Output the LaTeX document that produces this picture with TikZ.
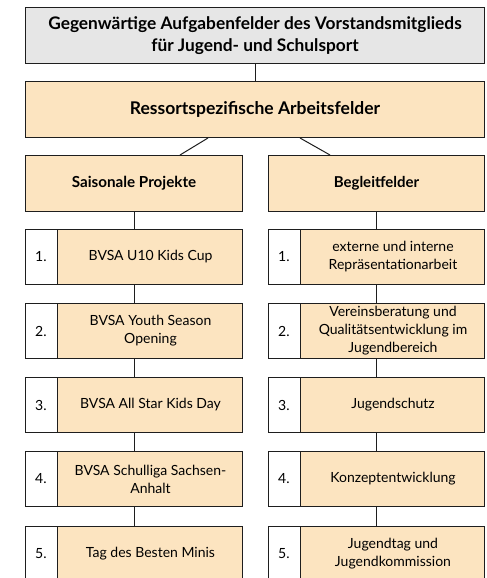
\documentclass[tikz,border=0pt]{standalone}
\usepackage{fontspec}
\setmainfont{Lato}
\usetikzlibrary{calc}
\definecolor{peach}{RGB}{252,228,192}
\definecolor{greybox}{RGB}{230,230,230}
\definecolor{edge}{RGB}{30,30,30}
\tikzset{
  box/.style={draw=edge, line width=1pt, fill=peach, anchor=north west, inner sep=0pt, align=center},
  numcell/.style={draw=edge, line width=1pt, fill=white, anchor=north west, inner sep=0pt, minimum width=32pt, minimum height=55pt},
  txt/.style={align=center, font=\fontsize{14}{18}\selectfont, inner sep=0pt},
  link/.style={draw=edge, line width=1pt}
}
\begin{document}
\begin{tikzpicture}[x=1pt,y=-1pt]
\useasboundingbox (0,0) rectangle (487,578);
% top
\node[box, fill=greybox, minimum width=459pt, minimum height=56pt] (top) at (25,7) {};
\node[txt, font=\bfseries\fontsize{17.3}{22}\selectfont] at (top.center) {Gegenwärtige Aufgabenfelder des Vorstandsmitglieds\\für Jugend- und Schulsport};
\node[box, minimum width=459pt, minimum height=56pt] (res) at (25,81) {};
\node[txt, font=\bfseries\fontsize{17.5}{21}\selectfont] at (res.center) {Ressortspezifische Arbeitsfelder};
\node[box, minimum width=217pt, minimum height=56pt] (sp) at (25,155) {};
\node[txt, font=\bfseries\fontsize{15.2}{18}\selectfont] at (sp.center) {Saisonale Projekte};
\node[box, minimum width=216pt, minimum height=56pt] (bf) at (268,155) {};
\node[txt, font=\bfseries\fontsize{15}{18}\selectfont] at (bf.center) {Begleitfelder};
\draw[link] (top.south) -- (res.north);
\coordinate (rl) at ($(res.south west)+(183,0)$);
\coordinate (rr) at ($(res.south west)+(275,0)$);
\coordinate (spt) at ($(sp.north west)+(155,0)$);
\coordinate (bft) at ($(bf.north west)+(62,0)$);
\draw[link] (rl) -- (spt);
\draw[link] (rr) -- (bft);
% left items
\foreach \i/\y/\t in {1/229/{BVSA U10 Kids Cup},2/303/{BVSA Youth Season\\Opening},3/377/{BVSA All Star Kids Day},4/451/{BVSA Schulliga Sachsen-\\Anhalt},5/526/{Tag des Besten Minis}}{
  \node[box, minimum width=217pt, minimum height=55pt] (l\i) at (25,\y) {};
  \node[numcell] (ln\i) at (25,\y) {};
  \node[txt, anchor=west] at ($(ln\i.west)+(10,0)$) {\i.};
  \node[txt] at ($(ln\i.east)!0.5!(l\i.east)$) {\t};
}
\foreach \i/\y/\t in {1/229/{externe und interne\\Repräsentationarbeit},2/303/{Vereinsberatung und\\Qualitätsentwicklung im\\Jugendbereich},3/377/{Jugendschutz},4/451/{Konzeptentwicklung},5/526/{Jugendtag und\\Jugendkommission}}{
  \node[box, minimum width=216pt, minimum height=55pt] (r\i) at (268,\y) {};
  \node[numcell] (rn\i) at (268,\y) {};
  \node[txt, anchor=west] at ($(rn\i.west)+(10,0)$) {\i.};
  \node[txt] at ($(rn\i.east)!0.5!(r\i.east)$) {\t};
}
\draw[link] (sp.south) -- (l1.north);
\draw[link] (l1.south) -- (l2.north);
\draw[link] (l2.south) -- (l3.north);
\draw[link] (l3.south) -- (l4.north);
\draw[link] (l4.south) -- (l5.north);
\draw[link] (bf.south) -- (r1.north);
\draw[link] (r1.south) -- (r2.north);
\draw[link] (r2.south) -- (r3.north);
\draw[link] (r3.south) -- (r4.north);
\draw[link] (r4.south) -- (r5.north);
\end{tikzpicture}
\end{document}
